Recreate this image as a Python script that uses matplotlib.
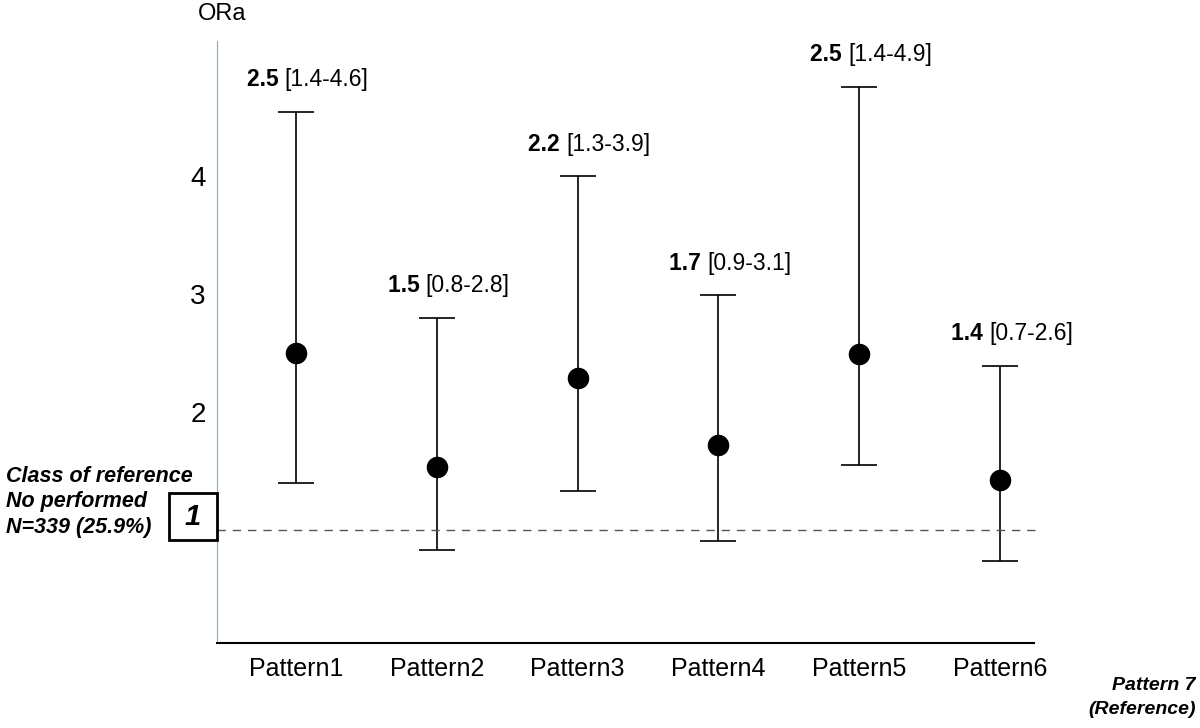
import matplotlib.pyplot as plt
from matplotlib.patches import Rectangle

plt.rcParams['font.family'] = ['Liberation Sans', 'DejaVu Sans']

patterns = ['Pattern1', 'Pattern2', 'Pattern3', 'Pattern4', 'Pattern5', 'Pattern6']
ora = [2.50, 1.53, 2.29, 1.72, 2.49, 1.42]
ci_low = [1.40, 0.83, 1.33, 0.91, 1.55, 0.74]
ci_high = [4.55, 2.80, 4.00, 2.99, 4.76, 2.39]
ora_txt = ['2.5', '1.5', '2.2', '1.7', '2.5', '1.4']
ci_txt = ['[1.4-4.6]', '[0.8-2.8]', '[1.3-3.9]', '[0.9-3.1]', '[1.4-4.9]', '[0.7-2.6]']
yticks = [2, 3, 4]
ref_lines = ['Class of reference', 'No performed', 'N=339 (25.9%)']

fig = plt.figure(figsize=(12, 7.28), dpi=100)
ax = fig.add_axes([217 / 1200, 1 - 643 / 728, (1034 - 217) / 1200, (643 - 41) / 728])

x = list(range(len(patterns)))
err = [[o - l for o, l in zip(ora, ci_low)], [h - o for o, h in zip(ora, ci_high)]]
ax.errorbar(x, ora, yerr=err, fmt='o', color='black', ms=14.5, elinewidth=1.2,
            capsize=13, capthick=1.2)

# reference line at OR = 1
ax.plot([-0.56, 5.3], [1, 1], ls=(0, (6, 5)), color='#555555', lw=1, clip_on=False)

for xi, hi, a, c in zip(x, ci_high, ora_txt, ci_txt):
    ax.annotate(a + ' ', (xi, hi), xytext=(-8, 15), textcoords='offset points',
                ha='right', va='bottom', fontsize=16.5, fontweight='bold')
    ax.annotate(c, (xi, hi), xytext=(-8, 15), textcoords='offset points',
                ha='left', va='bottom', fontsize=16.5)

ax.set_xlim(-0.56, 5.24)
ax.set_ylim(0.04, 5.15)
ax.set_xticks(x)
ax.set_xticklabels(patterns, fontsize=18)
ax.set_yticks(yticks)
ax.set_yticklabels([str(v) for v in yticks], fontsize=20)
ax.tick_params(length=0, pad=8)
ax.tick_params(axis='x', pad=10)
for s in ['top', 'right']:
    ax.spines[s].set_visible(False)
ax.spines['left'].set_color('#8fa8b8')
ax.spines['bottom'].set_color('black')
ax.spines['bottom'].set_linewidth(1.5)

fig.text(222 / 1200, 1 - 14 / 728, 'ORa', ha='center', va='center', fontsize=17)

# class of reference box
fig.patches.append(Rectangle((169 / 1200, 1 - 540 / 728), 48 / 1200, 47 / 728,
                             transform=fig.transFigure, fill=False, lw=2, ec='black'))
fig.text(193 / 1200, 1 - 517 / 728, '1', ha='center', va='center', fontsize=21,
         fontweight='bold', style='italic')
for i, line in enumerate(ref_lines):
    fig.text(6 / 1200, 1 - (476 + 26 * i) / 728, line, ha='left', va='center',
             fontsize=15.5, fontweight='bold', style='italic')

fig.text(1196 / 1200, 1 - 686 / 728, 'Pattern 7', ha='right', va='center',
         fontsize=14, fontweight='bold', style='italic')
fig.text(1196 / 1200, 1 - 710 / 728, '(Reference)', ha='right', va='center',
         fontsize=14, fontweight='bold', style='italic')

fig.savefig('out.png', dpi=100)
